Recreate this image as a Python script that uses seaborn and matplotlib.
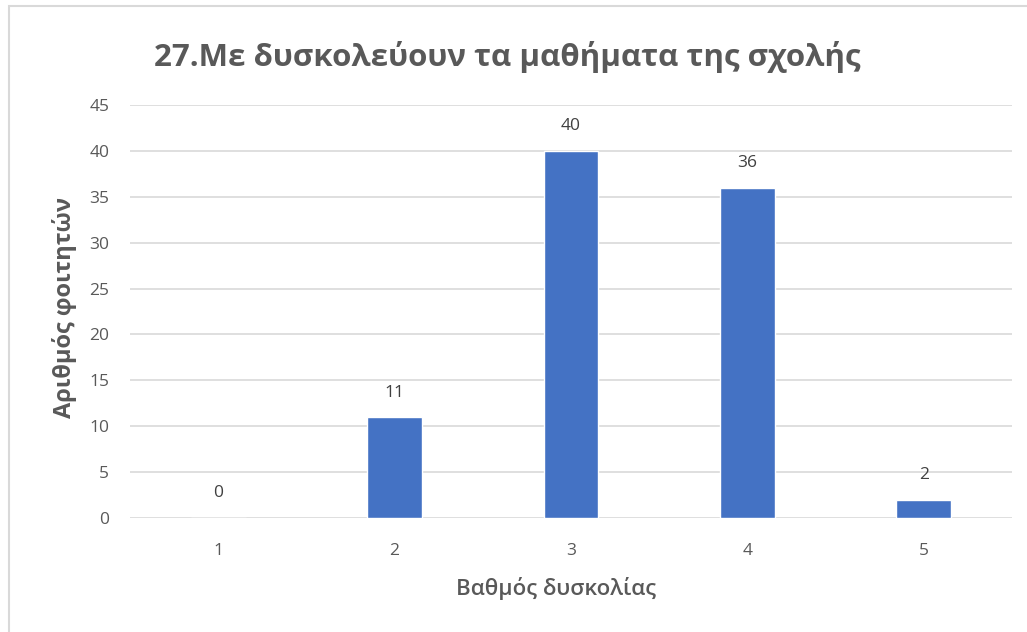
import pandas as pd
import seaborn as sns
import matplotlib.pyplot as plt
from matplotlib.patches import Rectangle

sns.set_theme(style="white")
plt.rcParams['font.family'] = ['Open Sans', 'DejaVu Sans']

# Chart data
grades = ['1', '2', '3', '4', '5']
students = [0, 11, 40, 36, 2]

df = pd.DataFrame({'grade': grades, 'students': students})

fig = plt.figure(figsize=(10.27, 6.32), dpi=100)
ax = fig.add_axes([0.1266, 0.1804, 0.8588, 0.6535])

sns.barplot(data=df, x='grade', y='students', color='#4472C4', width=0.31,
            saturation=1, ax=ax, zorder=3)

# Data labels above each bar
for i, v in enumerate(students):
    ax.text(i, v + 1.8, str(v), ha='center', va='bottom', fontsize=12.5, color='#404040')

ax.set_ylim(0, 45)
ax.set_yticks(range(0, 46, 5))
ax.set_xlim(-0.5, 4.5)
ax.grid(axis='y', color='#D9D9D9', linewidth=1.2, zorder=0)
for s in ax.spines.values():
    s.set_visible(False)
ax.tick_params(axis='both', length=0, labelsize=12.5, labelcolor='#595959')
ax.tick_params(axis='x', pad=18)
ax.tick_params(axis='y', pad=15)

ax.set_xlabel('Βαθμός δυσκολίας', fontsize=16, color='#595959', fontweight='semibold')
ax.set_ylabel('Αριθμός φοιτητών', fontsize=17, color='#595959', fontweight='bold')
ax.xaxis.set_label_coords(0.483, -0.143)
ax.yaxis.set_label_coords(-0.060, 0.51)

fig.text(0.494, 0.91, '27.Με δυσκολεύουν τα μαθήματα της σχολής', ha='center', va='center',
         fontsize=22.5, fontweight='bold', color='#595959')

# Chart border like the Excel frame
fig.patches.append(Rectangle((9 / 1027, -0.05), 1.2, 1 - 6 / 632 + 0.05, transform=fig.transFigure,
                             fill=False, edgecolor='#D9D9D9', linewidth=1.5))

fig.savefig('out.png', dpi=100)
